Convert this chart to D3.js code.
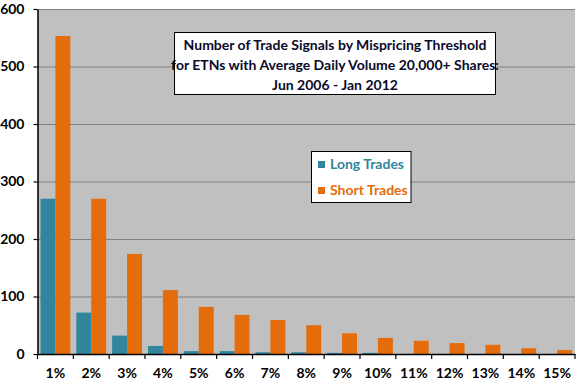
<!DOCTYPE html>
<html><head><meta charset="utf-8">
<script src="https://cdn.jsdelivr.net/npm/d3@7"></script>
<style>body{margin:0;background:#fff}svg{display:block}</style>
</head><body>
<svg id="c" width="576" height="384"></svg>
<script>
const categories = ["1%","2%","3%","4%","5%","6%","7%","8%","9%","10%","11%","12%","13%","14%","15%"];
const longTrades = [270,72,32,14,5,5,3,3,2,2,0,0,0,0,0];
const shortTrades = [553,270,174,111,82,68,59,50,36,28,23,19,16,10,7];
const yTicks = [0,100,200,300,400,500,600];
const seriesNames = ["Long Trades","Short Trades"];
const colors = ["#31859C","#E46C0A"];
const titleLines = ["Number of Trade Signals by Mispricing Threshold","for ETNs with Average Daily Volume 20,000+ Shares:","Jun 2006 - Jan 2012"];

const svg = d3.select("#c");
const L = 37.5, R = 575, T = 9, B = 354;
const font = "Lato, 'Liberation Sans', sans-serif";

svg.append("rect").attr("x",L).attr("y",T).attr("width",R-L).attr("height",B-T).attr("fill","#C0C0C0");

const x = d3.scaleBand().domain(categories).range([L,R]).paddingInner(0).paddingOuter(0);
const x1 = d3.scaleBand().domain([0,1]).range([0,x.bandwidth()]).paddingInner(0).paddingOuter(0.2);
const y = d3.scaleLinear().domain([0,600]).range([B,T]);

// gridlines
svg.append("g").selectAll("line").data(yTicks.filter(d=>d>0)).join("line")
  .attr("x1",L).attr("x2",R).attr("y1",d=>y(d)+0.5).attr("y2",d=>y(d)+0.5)
  .attr("stroke","#808080").attr("stroke-width",1);

const data = [longTrades, shortTrades];
data.forEach((arr,si)=>{
  svg.append("g").selectAll("rect").data(arr).join("rect")
    .attr("x",(d,i)=>x(categories[i])+x1(si))
    .attr("width",x1.bandwidth())
    .attr("y",d=>y(d))
    .attr("height",d=>B-y(d))
    .attr("fill",colors[si]);
});

// y axis
const ya = svg.append("g").attr("transform",`translate(${L},0)`)
  .call(d3.axisLeft(y).tickValues(yTicks).tickSize(4).tickPadding(9).tickSizeOuter(0));
ya.select(".domain").attr("stroke","#000").attr("stroke-width",1.5);
ya.selectAll(".tick line").attr("stroke","#000").attr("stroke-width",1.2);
ya.selectAll("text").attr("font-family",font).attr("font-weight","bold").attr("font-size",14).attr("fill","#000");

// x axis
const xa = svg.append("g").attr("transform",`translate(0,${B})`)
  .call(d3.axisBottom(x).tickSize(0).tickPadding(14).tickSizeOuter(0));
xa.select(".domain").attr("stroke","#000").attr("stroke-width",1.5);
xa.selectAll("text").attr("font-family",font).attr("font-weight","bold").attr("font-size",14).attr("fill","#000");
svg.append("g").selectAll("line").data(categories.concat(["end"])).join("line")
  .attr("x1",(d,i)=>L+i*x.bandwidth()).attr("x2",(d,i)=>L+i*x.bandwidth())
  .attr("y1",B).attr("y2",B+5).attr("stroke","#000").attr("stroke-width",1.2);

// title box
svg.append("rect").attr("x",174.5).attr("y",32.5).attr("width",321).attr("height",62)
  .attr("fill","#fff").attr("stroke","#000").attr("stroke-width",1);
svg.append("g").selectAll("text").data(titleLines).join("text")
  .attr("x",335).attr("y",(d,i)=>50+i*20).attr("text-anchor","middle")
  .attr("font-family",font).attr("font-weight","bold").attr("font-size",14).attr("fill","#0a0a2a")
  .text(d=>d);

// legend
svg.append("rect").attr("x",311.5).attr("y",151.5).attr("width",99.5).attr("height",51)
  .attr("fill","#fff").attr("stroke","#000").attr("stroke-width",1);
seriesNames.forEach((n,i)=>{
  svg.append("rect").attr("x",318).attr("y",161+i*26).attr("width",7).attr("height",7).attr("fill",colors[i]);
  svg.append("text").attr("x",330).attr("y",169+i*26).attr("font-family",font).attr("font-weight","bold")
    .attr("font-size",14).attr("fill",colors[i]).text(n);
});
</script>
</body></html>
